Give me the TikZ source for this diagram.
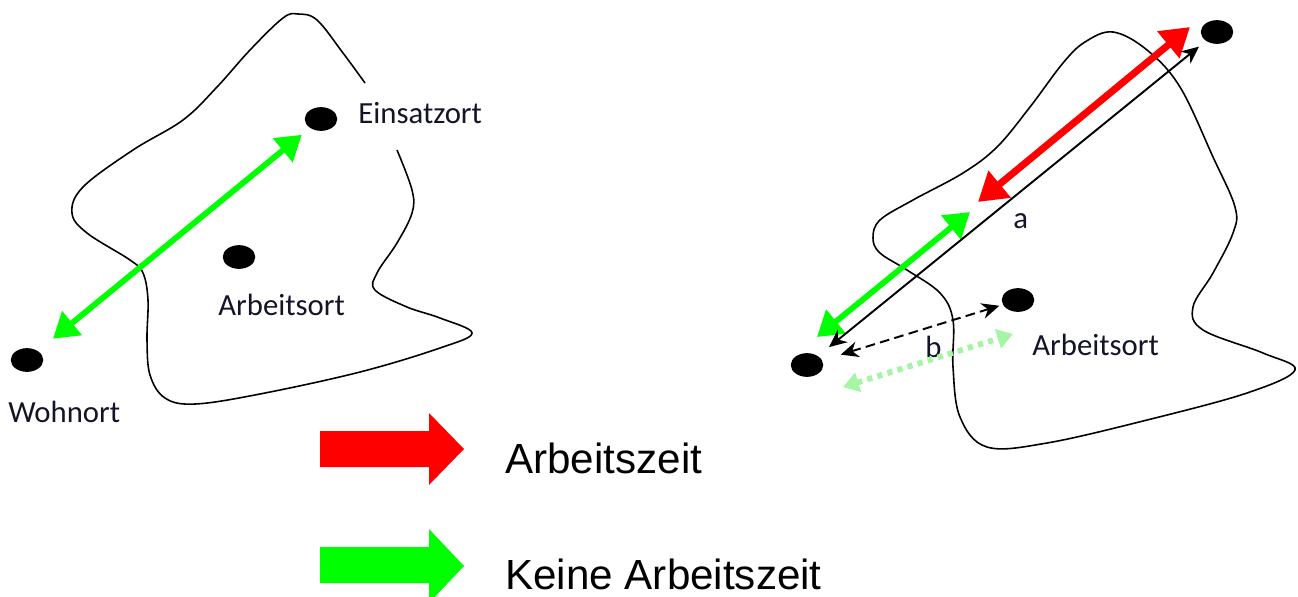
\documentclass[tikz,border=0pt]{standalone}
\usepackage{fontspec}
\setmainfont{Carlito}
\newfontfamily\legendfont{Liberation Sans}
\usetikzlibrary{arrows.meta,shapes.geometric}

\definecolor{hellgruen}{RGB}{165,245,165}
\definecolor{schrift}{RGB}{20,20,40}

\tikzset{
  punkt/.style={ellipse, fill=black, minimum width=18.5pt, minimum height=13.5pt, inner sep=0pt},
  ort/.style={anchor=base west, inner sep=0pt, text=schrift, font=\fontsize{17.5}{21}\selectfont},
  legende/.style={anchor=base west, inner sep=0pt, font=\legendfont\fontsize{24}{28}\selectfont},
  grenze/.style={line width=0.9pt},
  gruenpfeil/.style={draw=green, line width=3.3pt, {Triangle[length=14pt,width=17pt]}-{Triangle[length=14pt,width=17pt]}},
  rotpfeil/.style={draw=red, line width=4pt, {Triangle[length=16pt,width=19pt]}-{Triangle[length=16pt,width=19pt]}},
  weg/.style={line width=1.1pt, {Stealth[length=10pt,width=9pt]}-{Stealth[length=10pt,width=9pt]}},
  gestrichelt/.style={dash pattern=on 5.5pt off 3pt},
  hellpfeil/.style={draw=hellgruen, line width=3.3pt, dash pattern=on 3pt off 3pt, {Triangle[length=9pt,width=11pt]}-{Triangle[length=9pt,width=11pt]}}
}

\begin{document}
\begin{tikzpicture}[x=0.02cm, y=-0.02cm]
\useasboundingbox (0,0) rectangle (1298,596);

% 左图: 区域
\draw[grenze] plot[smooth, tension=0.6] coordinates {(397,150) (412,190) (412,213) (397,243) (377,273) (375,290) (407,307) (440,318) (472,333) (440,348) (360,372) (260,394) (195,404) (165,398) (150,375) (147,340) (148,300) (143,273) (130,260) (87,233) (72,213) (83,187) (133,150) (183,120) (217,87) (250,50) (283,18) (298,14) (317,20) (343,53) (365,83)};

% 左图: 点和标注
\node[punkt] (wohnort) at (27,360) {};
\node[punkt] (arbeitsort) at (239,257) {};
\node[punkt] (einsatzort) at (321,119) {};
\node[ort] (lwohnort) at (8,422) {Wohnort};
\node[ort] (larbeitsort) at (218,315) {Arbeitsort};
\node[ort] (leinsatzort) at (358,123) {Einsatzort};

\draw[gruenpfeil, shorten <=11pt, shorten >=6pt] (wohnort) -- (einsatzort);

% 右图: 区域
\draw[grenze] plot[smooth cycle, tension=0.6] coordinates {(1113,32) (1147,50) (1180,87) (1213,157) (1235,207) (1233,233) (1213,273) (1193,307) (1203,330) (1263,353) (1295,370) (1247,393) (1147,420) (1047,443) (987,447) (960,417) (953,367) (953,320) (940,293) (907,270) (880,253) (873,238) (880,220) (913,200) (963,173) (997,147) (1030,107) (1063,63) (1085,42)};

% 右图: 点
\node[punkt] (wohnort2) at (807,365) {};
\node[punkt] (einsatzort2) at (1217,32) {};
\node[punkt] (arbeitsort2) at (1018,300) {};
\node[ort] (la) at (1013,228) {a};
\node[ort] (lb) at (925,357) {b};
\node[ort] (larbeitsort2) at (1032,355) {Arbeitsort};

% 右图: 各段路程
\coordinate (gruenA) at (817,337);
\coordinate (gruenB) at (970,212);
\coordinate (rotA) at (978,202);
\coordinate (rotB) at (1190,27);
\coordinate (hellA) at (843,387);
\coordinate (hellB) at (1013,334);
\draw[gruenpfeil] (gruenA) -- (gruenB);
\draw[rotpfeil] (rotA) -- (rotB);
\draw[weg, shorten <=8pt, shorten >=5pt] (wohnort2) -- (einsatzort2);
\draw[weg, gestrichelt, shorten <=11pt, shorten >=2pt] (wohnort2) -- (arbeitsort2);
\draw[hellpfeil] (hellA) -- (hellB);

% 图例
\fill[red] (320,431) -- (429,431) -- (429,413) -- (464,449) -- (429,485) -- (429,467) -- (320,467) -- cycle;
\fill[green] (320,547) -- (429,547) -- (429,529) -- (464,566) -- (429,603) -- (429,583) -- (320,583) -- cycle;
\node[legende] (lzeit) at (505,473) {Arbeitszeit};
\node[legende] (lkeine) at (505,589) {Keine Arbeitszeit};
\end{tikzpicture}
\end{document}
